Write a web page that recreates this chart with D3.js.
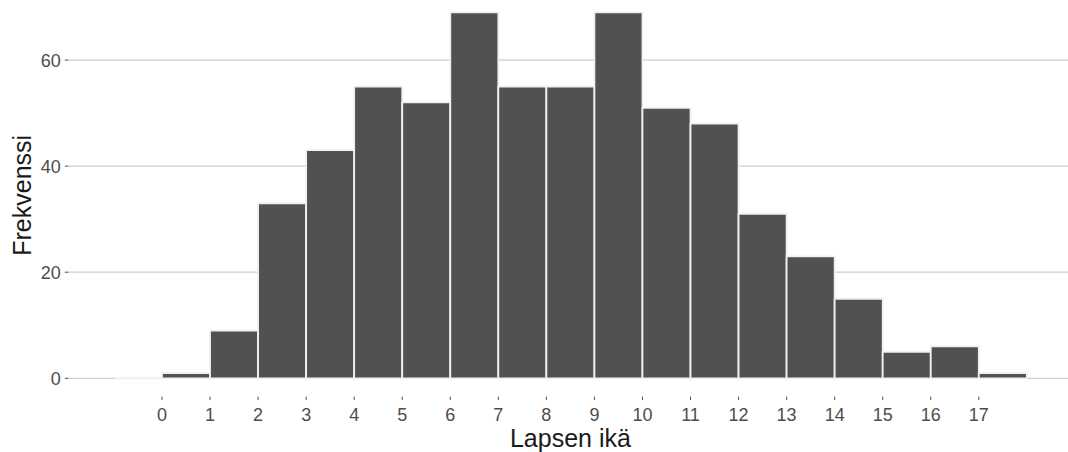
<!DOCTYPE html>
<html>
<head>
<meta charset="utf-8">
<script src="https://cdn.jsdelivr.net/npm/d3@7"></script>
<style>
  html, body { margin: 0; padding: 0; background: #ffffff; }
  svg { display: block; font-family: "Liberation Sans", Arial, Helvetica, sans-serif; }
</style>
</head>
<body>
<svg id="chart" width="1068" height="452"></svg>
<script>
// Data: histogram of child age (bins of width 1)
const binStarts = [-1, 0, 1, 2, 3, 4, 5, 6, 7, 8, 9, 10, 11, 12, 13, 14, 15, 16, 17];
const counts    = [0, 1, 9, 33, 43, 55, 52, 69, 55, 55, 69, 51, 48, 31, 23, 15, 5, 6, 1];
const xTicks = [0, 1, 2, 3, 4, 5, 6, 7, 8, 9, 10, 11, 12, 13, 14, 15, 16, 17];
const yTicks = [0, 20, 40, 60];
const xTitle = "Lapsen ikä";
const yTitle = "Frekvenssi";

const svg = d3.select("#chart");
const W = 1068, H = 452;

// Panel geometry (the plot panel extends slightly past the top/right edge)
const panel = { left: 68.3, right: 1072.5, top: -6.0, bottom: 396.6 };

const x = d3.scaleLinear().domain([-1.95, 18.95]).range([panel.left, panel.right]);
const y = d3.scaleLinear().domain([-3.45, 72.45]).range([panel.bottom, panel.top]);

// Gridlines
svg.append("g").selectAll("line").data(yTicks).join("line")
  .attr("x1", panel.left).attr("x2", Math.min(panel.right, W))
  .attr("y1", d => y(d)).attr("y2", d => y(d))
  .attr("stroke", "#cdcdcd").attr("stroke-width", 1.2);

// Bars (paths so that zero-height bins still draw their outline)
svg.append("g").selectAll("path").data(binStarts).join("path")
  .attr("d", (d, i) => {
    const x0 = x(d), x1 = x(d + 1), y0 = y(0), y1 = y(counts[i]);
    return `M${x0},${y0}V${y1}H${x1}V${y0}Z`;
  })
  .attr("fill", "#515151")
  .attr("stroke", "#f0f0f0")
  .attr("stroke-width", 1.8);

// Y axis ticks and labels
const yAxis = svg.append("g");
yAxis.selectAll("line").data(yTicks).join("line")
  .attr("x1", panel.left - 3.5).attr("x2", panel.left)
  .attr("y1", d => y(d)).attr("y2", d => y(d))
  .attr("stroke", "#4d4d4d").attr("stroke-width", 1);
yAxis.selectAll("text").data(yTicks).join("text")
  .attr("x", panel.left - 7.5).attr("y", d => y(d))
  .attr("dy", "0.36em")
  .attr("text-anchor", "end")
  .attr("fill", "#4d4d4d").attr("font-size", 18)
  .text(d => d);

// X axis ticks and labels
const xAxis = svg.append("g");
xAxis.selectAll("line").data(xTicks).join("line")
  .attr("x1", d => x(d)).attr("x2", d => x(d))
  .attr("y1", panel.bottom).attr("y2", panel.bottom + 3.5)
  .attr("stroke", "#4d4d4d").attr("stroke-width", 1);
xAxis.selectAll("text").data(xTicks).join("text")
  .attr("x", d => x(d)).attr("y", panel.bottom + 24.5)
  .attr("text-anchor", "middle")
  .attr("fill", "#4d4d4d").attr("font-size", 18)
  .text(d => d);

// Axis titles
svg.append("text")
  .attr("x", (panel.left + panel.right) / 2).attr("y", 446.5)
  .attr("text-anchor", "middle")
  .attr("fill", "#1a1a1a").attr("font-size", 25)
  .text(xTitle);

svg.append("text")
  .attr("transform", `translate(31,${(panel.top + panel.bottom) / 2}) rotate(-90)`)
  .attr("text-anchor", "middle")
  .attr("fill", "#1a1a1a").attr("font-size", 25)
  .text(yTitle);
</script>
</body>
</html>
